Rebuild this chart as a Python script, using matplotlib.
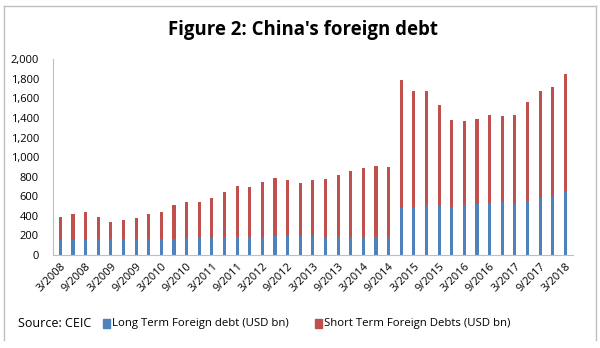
import matplotlib.pyplot as plt
from matplotlib.lines import Line2D
from matplotlib.patches import Rectangle
import numpy as np

plt.rcParams['font.family'] = ['Open Sans', 'DejaVu Sans']

# quarterly, 3/2008 .. 3/2018 (USD bn)
quarters = []
for yr in range(2008, 2019):
    for m in (3, 6, 9, 12):
        if yr == 2018 and m > 3:
            break
        quarters.append(f"{m}/{yr}")

long_term = [153, 153, 153, 160, 160, 160, 160, 160, 160, 160, 170, 170, 170, 177, 184,
             184, 184, 194, 194, 194, 194, 170, 184, 184, 184, 184, 180, 480, 493, 507,
             503, 493, 507, 520, 534, 541, 520, 548, 585, 609, 656]
total = [388, 422, 439, 388, 333, 357, 381, 422, 439, 510, 544, 544, 582, 643, 701,
         690, 745, 789, 769, 735, 762, 772, 820, 857, 884, 908, 895, 1786, 1670, 1680,
         1534, 1378, 1364, 1388, 1435, 1418, 1435, 1565, 1680, 1711, 1844]
short_term = [t - l for t, l in zip(total, long_term)]

blue = '#4F81BD'
red = '#C0504D'

fig = plt.figure(figsize=(6, 3.48), dpi=100)
ax = fig.add_axes([0.088, 0.267, 0.867, 0.563])

x = np.arange(len(quarters))
ax.bar(x, long_term, width=0.25, color=blue)
ax.bar(x, short_term, width=0.25, bottom=long_term, color=red)

ax.set_ylim(0, 2000)
ax.set_xlim(-0.6, len(quarters) - 0.4)
ax.set_yticks(range(0, 2001, 200))
ax.set_yticklabels([f"{v:,}" for v in range(0, 2001, 200)], fontsize=8)
ax.set_xticks(x[::2])
ax.set_xticklabels(quarters[::2], rotation=45, ha='right', rotation_mode='anchor', fontsize=8)
ax.tick_params(axis='y', length=0, pad=10)
ax.tick_params(axis='x', length=0, pad=4)
for s in ('top', 'right'):
    ax.spines[s].set_visible(False)
for s in ('left', 'bottom'):
    ax.spines[s].set_color('#BFBFBF')

fig.text(0.505, 0.913, "Figure 2: China's foreign debt", ha='center', va='center',
         fontsize=13.4, fontweight='bold')

# legend row
fig.text(0.03, 0.07, "Source: CEIC", fontsize=9, va='center')
fig.patches.append(Rectangle((0.172, 0.058), 0.011, 0.024, transform=fig.transFigure, color=blue))
fig.text(0.187, 0.07, "Long Term Foreign debt (USD bn)", fontsize=8.2, va='center')
fig.patches.append(Rectangle((0.525, 0.058), 0.011, 0.024, transform=fig.transFigure, color=red))
fig.text(0.540, 0.07, "Short Term Foreign Debts (USD bn)", fontsize=8.2, va='center')

# outer frame (top, left, right)
W, H = 600, 348
for xs, ys in [((4 / W, 4 / W), (1 - 340 / H, 1 - 6 / H)),
               ((596 / W, 596 / W), (1 - 340 / H, 1 - 6 / H)),
               ((4 / W, 596 / W), (1 - 6 / H, 1 - 6 / H))]:
    fig.lines.append(Line2D(xs, ys, transform=fig.transFigure, color='#BFBFBF', lw=1))

fig.savefig('out.png', dpi=100)
